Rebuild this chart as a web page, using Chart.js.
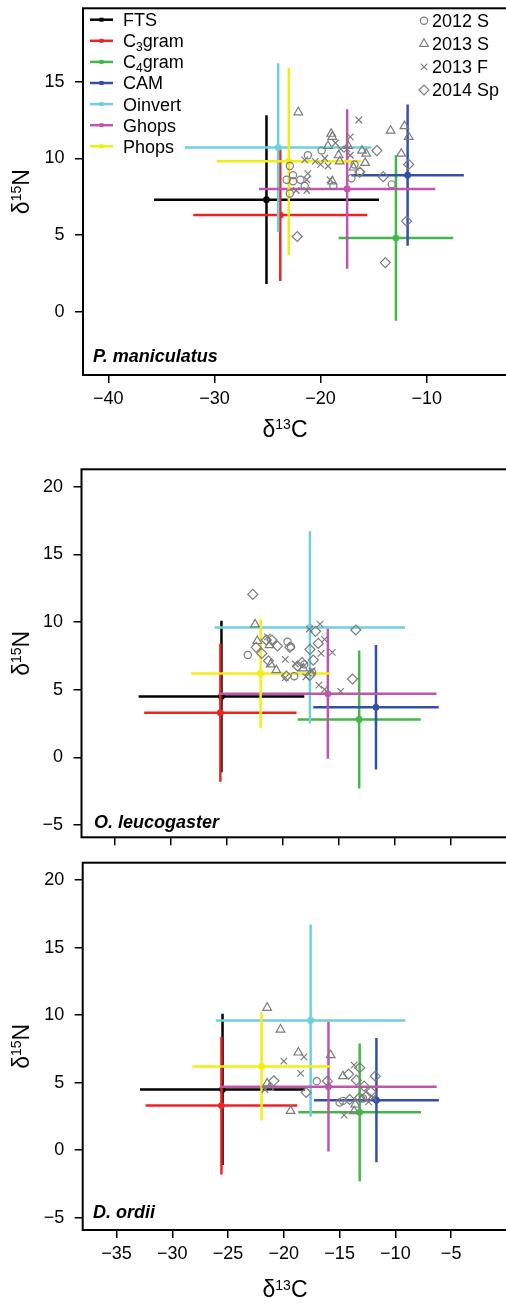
<!DOCTYPE html>
<html><head><meta charset="utf-8">
<script src="https://cdn.jsdelivr.net/npm/chart.js@4/dist/chart.umd.min.js"></script>
<style>
html,body{margin:0;padding:0;background:#fff;overflow:hidden;width:506px;height:1310px;}
.p{position:absolute;left:0;}
canvas{display:block;}
</style></head><body>
<div class="p" style="top:0"><canvas id="c1" width="506" height="440"></canvas></div>
<div class="p" style="top:440px"><canvas id="c2" width="506" height="420"></canvas></div>
<div class="p" style="top:860px"><canvas id="c3" width="506" height="450"></canvas></div>
<script>
// ---------- DATA ----------
const groups = ['FTS', 'C3gram', 'C4gram', 'CAM', 'Oinvert', 'Ghops', 'Phops'];
const years = ['2012 S', '2013 S', '2013 F', '2014 Sp'];
const species = ['P. maniculatus', 'O. leucogaster', 'D. ordii'];

// P. maniculatus panel: food source means and SDs
const pmFoodX   = [-25.1, -23.8, -12.9, -11.8, -24.0, -17.5, -23.0];
const pmFoodXsd = [10.6, 8.2, 5.4, 5.3, 8.8, 8.3, 6.8];
const pmFoodY   = [7.3, 6.3, 4.8, 8.9, 10.7, 8.0, 9.8];
const pmFoodYsd = [5.5, 4.3, 5.4, 4.6, 5.5, 5.2, 6.1];

// O. leucogaster and D. ordii panels: food source means and SDs
const odFoodX   = [-25.5, -25.6, -13.2, -11.7, -17.6, -16.0, -22.0];
const odFoodXsd = [7.4, 6.8, 5.5, 5.6, 8.5, 9.7, 6.2];
const odFoodY   = [4.5, 3.3, 2.8, 3.7, 9.6, 4.7, 6.2];
const odFoodYsd = [5.6, 5.1, 5.1, 4.6, 7.1, 4.8, 4.0];

// consumers [d13C, d15N]
const pm2012S = [[-21.2,10.2],[-19.9,10.5],[-22.9,9.5],[-23.2,8.6],[-22.6,8.9],[-22.6,8.5],[-21.9,8.6],[-21.5,8.2],[-22.9,7.7],[-18.8,8.2],[-17.1,8.7],[-16.8,9.6],[-16.3,9.1],[-13.3,8.3]];
const pm2013S = [[-22.1,13.0],[-19.0,11.6],[-18.9,11.4],[-19.3,10.8],[-17.4,10.8],[-18.3,10.2],[-18.2,9.8],[-16.1,10.5],[-15.7,10.3],[-15.8,9.7],[-13.4,11.8],[-12.1,12.1],[-11.7,11.4],[-12.4,10.3],[-16.9,9.4],[-18.9,8.5]];
const pm2013F = [[-16.4,12.5],[-17.2,11.4],[-18.6,11.0],[-18.1,10.6],[-19.6,10.0],[-20.5,9.8],[-20.0,9.6],[-19.3,9.5],[-21.5,9.9],[-21.2,9.0],[-21.3,8.6],[-21.3,7.9],[-22.3,7.9],[-19.1,8.6],[-17.2,10.2],[-17.5,10.6]];
const pm2014Sp = [[-14.7,10.5],[-14.1,8.8],[-11.7,9.6],[-11.9,5.9],[-22.2,4.9],[-13.9,3.2],[-16.3,9.1]];

const ol2012S = [[-23.15,7.56],[-19.6,8.55],[-19.3,8.18],[-19.0,6.0],[-18.1,6.87],[-17.4,6.28]];
const ol2013S = [[-22.5,9.83],[-22.3,8.6],[-21.2,8.3],[-21.1,6.87],[-20.6,6.45],[-18.2,6.58]];
const ol2013F = [[-21.4,8.9],[-19.8,7.24],[-19.8,5.89],[-18.9,6.9],[-17.95,5.96],[-17.4,6.4],[-17.65,9.48],[-16.7,9.85],[-16.6,7.68],[-16.3,8.72],[-15.6,7.76],[-16.8,5.34],[-16.3,5.02],[-14.85,4.88]];
const ol2014Sp = [[-22.7,12.04],[-22.4,8.13],[-21.9,7.68],[-21.5,8.67],[-21.0,8.67],[-20.5,8.23],[-19.4,8.13],[-21.3,7.14],[-19.7,6.01],[-18.7,6.75],[-18.3,7.0],[-17.6,6.06],[-17.3,7.19],[-17.6,7.98],[-17.1,9.31],[-16.85,8.42],[-13.5,9.41],[-13.8,5.79]];

const do2012S = [[-17.05,5.11],[-15.0,3.53],[-14.7,3.65],[-12.9,3.83]];
const do2013S = [[-21.5,10.54],[-20.3,8.93],[-18.7,7.23],[-15.8,7.03],[-21.5,4.94],[-21.3,4.61],[-19.4,2.91],[-14.7,5.48],[-13.6,3.38],[-13.7,2.89]];
const do2013F = [[-18.2,6.91],[-20.0,6.59],[-18.5,5.68],[-21.7,4.49],[-13.7,6.29],[-14.6,2.59],[-12.4,3.58],[-12.0,3.9]];
const do2014Sp = [[-16.1,5.11],[-20.9,5.13],[-18.0,4.27],[-14.2,5.63],[-13.2,6.10],[-13.5,5.18],[-11.8,5.48],[-12.8,4.74],[-14.1,3.75],[-13.2,3.9],[-12.6,4.0],[-12.2,4.32]];

// tick labels
const pmXTicks = [-40, -30, -20, -10];
const pmYTicks = [0, 5, 10, 15];
const odXTicks = [-35, -30, -25, -20, -15, -10, -5];
const odYTicks = [-5, 0, 5, 10, 15, 20];

// ---------- STYLE ----------
const FONT = '"Liberation Sans", Arial, sans-serif';
const groupColors = ['#000000', '#ee2424', '#45b649', '#3350a8', '#6dd0de', '#bf55b0', '#f2ee12'];
const yearStyles = [
  {pointStyle: 'circle', radius: 3.6},
  {pointStyle: 'triangle', radius: 5.0},
  {pointStyle: 'crossRot', radius: 4.6},
  {pointStyle: 'rectRot', radius: 5.0}
];
const GRAY = '#7c7c7c';
Chart.defaults.font.family = FONT;
Chart.defaults.color = '#000';

function richText(ctx, parts, x, y) {
  let w = 0;
  parts.forEach(p => { ctx.font = p[1] + 'px ' + FONT; p.w = ctx.measureText(p[0]).width; w += p.w; });
  let cx = x - w / 2;
  parts.forEach(p => { ctx.font = p[1] + 'px ' + FONT; ctx.fillText(p[0], cx, y - p[2]); cx += p.w; });
}
function leftRich(ctx, parts, x, y) {
  let cx = x;
  parts.forEach(p => { ctx.font = p[1] + 'px ' + FONT; ctx.fillText(p[0], cx, y - p[2]); cx += ctx.measureText(p[0]).width; });
}
const legendParts = (g) => {
  const m = g.match(/^C(\d)(gram)$/);
  if (m) return [['C', 18, 0], [m[1], 12, -4], [m[2], 18, 0]];
  return [[g, 18, 0]];
};

const decor = {
  id: 'decor',
  afterLayout(chart, args, o) {
    // pin the plot box to the measured geometry
    const a = chart.chartArea, g = o.geo;
    a.left = g.left; a.right = g.right; a.top = g.top; a.bottom = g.bottom;
    a.width = g.right - g.left; a.height = g.bottom - g.top;
    const x = chart.scales.x, y = chart.scales.y;
    x.left = g.left; x.right = g.right; x.width = g.right - g.left;
    x.top = g.bottom; x.bottom = g.h; x.height = g.h - g.bottom;
    x.configure();
    y.top = g.top; y.bottom = g.bottom; y.height = g.bottom - g.top;
    y.left = 0; y.right = g.left; y.width = g.left;
    y.configure();
  },
  afterDraw(chart, args, o) {
    const ctx = chart.ctx, a = chart.chartArea;
    ctx.save();
    ctx.strokeStyle = '#000'; ctx.lineWidth = 2;
    ctx.strokeRect(a.left, a.top, a.right - a.left, a.bottom - a.top);
    ctx.fillStyle = '#000'; ctx.textAlign = 'left'; ctx.textBaseline = 'alphabetic';
    ctx.font = 'italic bold 18px ' + FONT;
    ctx.fillText(o.species, o.spX, o.spBase);
    // y title
    ctx.save();
    ctx.translate(28.5, (a.top + a.bottom) / 2);
    ctx.rotate(-Math.PI / 2);
    richText(ctx, [['\u03b4', 23, 0], ['15', 14, 7.5], ['N', 23, 0]], 0, 0);
    ctx.restore();
    if (o.xTitleBase) richText(ctx, [['\u03b4', 23, 0], ['13', 14, 7.5], ['C', 23, 0]], 285, o.xTitleBase);
    if (o.legend) {
      groups.forEach((g, i) => {
        const y = 19.7 + i * 21.1;
        ctx.strokeStyle = groupColors[i]; ctx.lineWidth = 2.5;
        ctx.beginPath(); ctx.moveTo(90, y); ctx.lineTo(113, y); ctx.stroke();
        ctx.fillStyle = groupColors[i]; ctx.fillRect(99.5, y - 2, 4, 4);
        ctx.fillStyle = '#000';
        leftRich(ctx, legendParts(g), 123, y + 6.4);
      });
      years.forEach((yr, i) => {
        const y = 20.7 + i * 23.1;
        ctx.strokeStyle = GRAY; ctx.lineWidth = 1.2; ctx.fillStyle = 'rgba(0,0,0,0)';
        Chart.helpers.drawPoint(ctx, {pointStyle: yearStyles[i].pointStyle, radius: yearStyles[i].radius, rotation: 0, borderWidth: 1.2}, 424, y);
        ctx.fillStyle = '#000'; ctx.font = '18px ' + FONT;
        ctx.fillText(yr, 432, y + 6.4);
      });
    }
    ctx.restore();
  }
};

const noPad = s => { s.paddingTop = 0; s.paddingBottom = 0; s.paddingLeft = 0; s.paddingRight = 0; };

function makeChart(id, c) {
  const datasets = [];
  groups.forEach((g, i) => {
    const xm = c.fx[i], xs = c.fxsd[i], ym = c.fy[i], ys = c.fysd[i];
    datasets.push({
      label: g + ' h', data: [{x: xm - xs, y: ym}, {x: xm + xs, y: ym}],
      showLine: true, borderColor: groupColors[i], borderWidth: 2.5, pointRadius: 0, order: 100 - 2 * i
    });
    datasets.push({
      label: g + ' v', data: [{x: xm, y: ym - ys}, {x: xm, y: ym}, {x: xm, y: ym + ys}],
      showLine: true, borderColor: groupColors[i], borderWidth: 2.5,
      pointRadius: [0, 3.4, 0], pointBackgroundColor: groupColors[i], pointBorderWidth: 0, order: 99 - 2 * i
    });
  });
  c.cons.forEach((arr, k) => {
    datasets.push({
      label: years[k], data: arr.map(p => ({x: p[0], y: p[1]})),
      showLine: false, pointStyle: yearStyles[k].pointStyle, pointRadius: yearStyles[k].radius,
      pointBorderColor: GRAY, pointBackgroundColor: 'rgba(0,0,0,0)', pointBorderWidth: 1.2, order: k
    });
  });
  const fmt = v => String(v).replace('-', '\u2212');
  return new Chart(document.getElementById(id), {
    type: 'scatter',
    data: {datasets},
    plugins: [decor],
    options: {
      responsive: false, animation: false, events: [],
      layout: {padding: {top: c.top, right: 0, left: 0, bottom: 0}},
      plugins: {legend: {display: false}, tooltip: {enabled: false},
        decor: {species: c.species, spX: c.spX, spBase: c.spBase, xTitleBase: c.xTitleBase, legend: c.legend,
          geo: {left: c.left, right: c.right, top: c.top, bottom: c.bottom, h: c.h}}},
      scales: {
        x: {
          type: 'linear', min: c.xmin, max: c.xmax,
          afterBuildTicks: s => { s.ticks = c.xt.map(v => ({value: v})); },
          afterFit: s => { s.height = c.h - c.bottom; noPad(s); },
          grid: {display: true, drawOnChartArea: false, drawTicks: true, tickLength: 8, color: '#000', lineWidth: 1.5},
          border: {display: false},
          ticks: {display: c.xLabels, color: '#000', font: {size: 18}, padding: 5, maxRotation: 0, autoSkip: false, callback: fmt}
        },
        y: {
          type: 'linear', min: c.ymin, max: c.ymax,
          afterBuildTicks: s => { s.ticks = c.yt.map(v => ({value: v})); },
          afterFit: s => { s.width = c.left; noPad(s); },
          grid: {display: true, drawOnChartArea: false, drawTicks: true, tickLength: 8, color: '#000', lineWidth: 1.5},
          border: {display: false},
          ticks: {color: '#000', font: {size: 18}, padding: 10.5, autoSkip: false, callback: fmt}
        }
      }
    }
  });
}

makeChart('c1', {h: 440, left: 83, top: 8.3, right: 508, bottom: 375,
  xmin: -42.39, xmax: -2.34, ymin: -4.13, ymax: 19.78, xt: pmXTicks, yt: pmYTicks, xLabels: true,
  fx: pmFoodX, fxsd: pmFoodXsd, fy: pmFoodY, fysd: pmFoodYsd,
  cons: [pm2012S, pm2013S, pm2013F, pm2014Sp],
  species: species[0], spX: 93, spBase: 361.7, xTitleBase: 436.7, legend: true});

makeChart('c2', {h: 420, left: 81.5, top: 29.3, right: 508, bottom: 397.3,
  xmin: -38.0, xmax: 0.09, ymin: -5.9, ymax: 21.28, xt: odXTicks, yt: odYTicks, xLabels: false,
  fx: odFoodX, fxsd: odFoodXsd, fy: odFoodY, fysd: odFoodYsd,
  cons: [ol2012S, ol2013S, ol2013F, ol2014Sp],
  species: species[1], spX: 94, spBase: 387.7, xTitleBase: null, legend: false});

makeChart('c3', {h: 450, left: 82.7, top: 2.7, right: 508, bottom: 370,
  xmin: -38.04, xmax: 0.1, ymin: -5.91, ymax: 21.28, xt: odXTicks, yt: odYTicks, xLabels: true,
  fx: odFoodX, fxsd: odFoodXsd, fy: odFoodY, fysd: odFoodYsd,
  cons: [do2012S, do2013S, do2013F, do2014Sp],
  species: species[2], spX: 93, spBase: 358.3, xTitleBase: 437.3, legend: false});
</script>
</body></html>
